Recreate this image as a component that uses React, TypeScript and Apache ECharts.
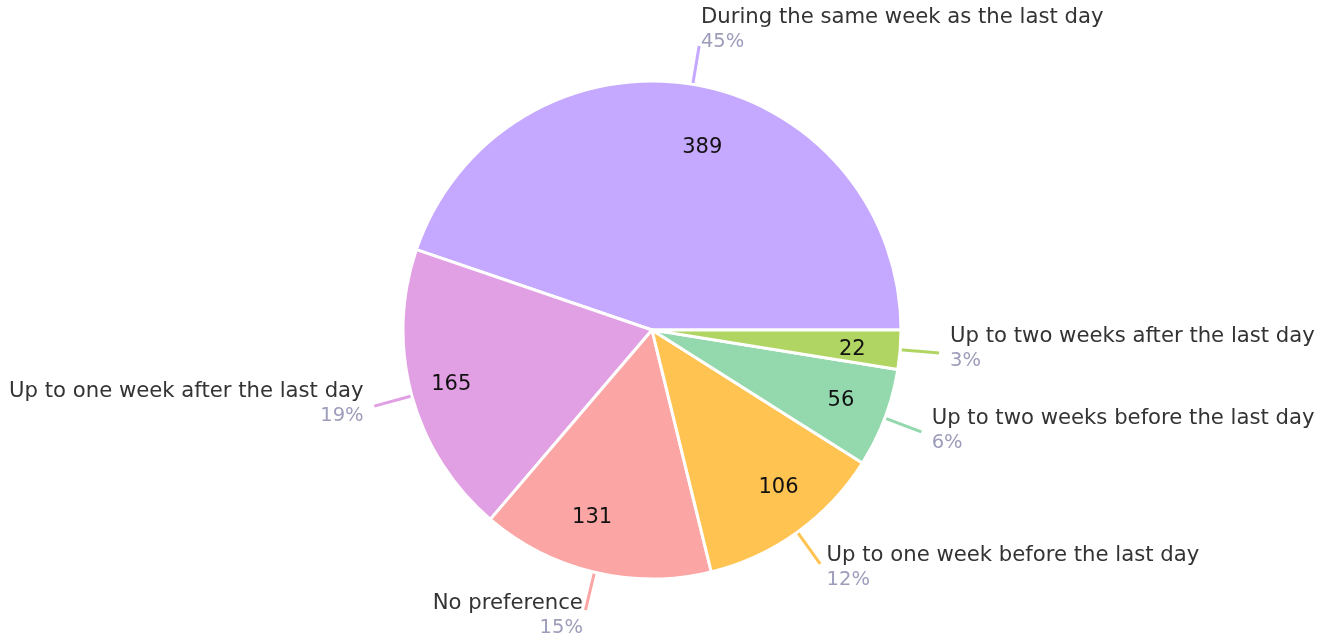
import React, { useEffect, useRef } from "react";
import * as echarts from "echarts";

const categories = [
  "During the same week as the last day",
  "Up to one week after the last day",
  "No preference",
  "Up to one week before the last day",
  "Up to two weeks before the last day",
  "Up to two weeks after the last day",
];
const values = [389, 165, 131, 106, 56, 22];
const colors = ["#c5a8ff", "#e2a0e4", "#fca5a5", "#ffc352", "#93d9ad", "#b1d562"];
// small nudges of the value labels inside the slices (px)
const valueLabelOffsets = [
  [17, 16],
  [-5, -1],
  [-13, -12],
  [8, -9],
  [-1, -3],
  [-2, 2],
];

const FONT = "'DejaVu Sans', 'Noto Sans', sans-serif";
// the chart box is larger than the window so that edge labels are never clipped
const PAD_X = 100;
const PAD_Y = 80;
const CENTER = [652 + PAD_X, 330 + PAD_Y];
const R = 249;

export default function App() {
  const ref = useRef<HTMLDivElement>(null);
  useEffect(() => {
    if (!ref.current) return;
    const chart = echarts.init(ref.current, undefined, { renderer: "svg" });
    const base = {
      type: "pie",
      center: CENTER,
      startAngle: 0,
      clockwise: false,
      avoidLabelOverlap: false,
      labelLayout: { hideOverlap: false },
      emphasis: { disabled: true },
    };
    chart.setOption({
      animation: false,
      series: [
        {
          ...base,
          radius: R,
          itemStyle: { borderColor: "#fff", borderWidth: 3 },
          label: {
            show: true,
            position: "outside",
            formatter: " ",
            distanceToLabelLine: 0,
            fontSize: 1,
          },
          labelLine: { show: true, length: 39, length2: 0, lineStyle: { width: 3 } },
          data: categories.map((c, i) => ({
            name: c,
            value: values[i],
            itemStyle: { color: colors[i] },
          })),
        },
        {
          ...base,
          radius: [151, R],
          silent: true,
          itemStyle: { color: "transparent", borderWidth: 0 },
          label: {
            show: true,
            position: "inside",
            fontFamily: FONT,
            fontSize: 21,
            color: "#111111",
            formatter: "{c}",
          },
          labelLine: { show: false },
          data: categories.map((c, i) => ({
            name: c,
            value: values[i],
            itemStyle: { color: "transparent" },
            label: { offset: valueLabelOffsets[i] },
          })),
        },
        {
          ...base,
          radius: R + 11,
          silent: true,
          itemStyle: { color: "transparent", borderWidth: 0 },
          label: {
            show: true,
            position: "outside",
            distanceToLabelLine: 0,
            bleedMargin: 0,
            padding: [0, 0, 14, 0],
            fontFamily: FONT,
            formatter: (p: any) => `{n|${p.name}}\n{p|${Math.round(p.percent)}%}`,
            rich: {
              n: { fontSize: 21.2, color: "#333333", fontFamily: FONT, lineHeight: 25 },
              p: { fontSize: 19.5, color: "#9d9dbb", fontFamily: FONT, lineHeight: 25 },
            },
          },
          labelLine: { show: true, length: 39, length2: 0, lineStyle: { opacity: 0 } },
          data: categories.map((c, i) => ({
            name: c,
            value: values[i],
            itemStyle: { color: "transparent" },
          })),
        },
      ],
    });
    return () => chart.dispose();
  }, []);
  return (
    <div
      ref={ref}
      style={{
        position: "fixed",
        left: -PAD_X,
        top: -PAD_Y,
        width: 1324 + 2 * PAD_X,
        height: 641 + 2 * PAD_Y,
      }}
    />
  );
}
